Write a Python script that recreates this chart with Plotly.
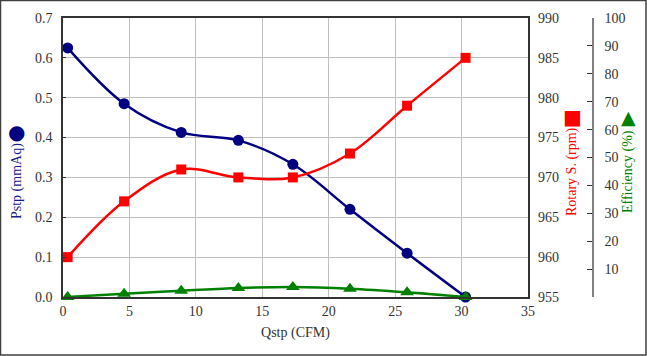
import plotly.graph_objects as go

qstp = [0.35, 4.6, 8.9, 13.2, 17.3, 21.6, 25.9, 30.3]
pstp = [0.625, 0.485, 0.413, 0.393, 0.333, 0.220, 0.110, 0.0]
rotary = [960, 967, 971, 970, 970, 973, 979, 985]
eff = [0.0, 1.2, 2.2, 3.2, 3.6, 3.0, 1.7, 0.0]

W, H = 647, 356
L, R, T, B = 63, 20, 18, 59
pw = W - L - R
ph = H - T - B
plot_right = 528
eff_axis_x = 593

def px(x):
    return (x - L) / pw

def py(y):
    return (H - B - y) / ph

FONT = "Liberation Serif, Times New Roman, serif"
NAVY = "#000080"
RED = "#FF0000"
GREEN = "#008000"

fig = go.Figure()
fig.add_trace(go.Scatter(x=qstp, y=pstp, mode="lines+markers", name="Pstp",
                         line=dict(color=NAVY, width=2.5, shape="spline", smoothing=1),
                         marker=dict(symbol="circle", size=11, color=NAVY),
                         xaxis="x", yaxis="y", cliponaxis=False))
fig.add_trace(go.Scatter(x=qstp, y=rotary, mode="lines+markers", name="Rotary S.",
                         line=dict(color=RED, width=2.5, shape="spline", smoothing=1),
                         marker=dict(symbol="square", size=10, color=RED),
                         xaxis="x", yaxis="y2", cliponaxis=False))
fig.add_trace(go.Scatter(x=qstp, y=eff, mode="lines+markers", name="Efficiency",
                         line=dict(color=GREEN, width=2.5, shape="spline", smoothing=1),
                         marker=dict(symbol="triangle-up", size=12, color=GREEN),
                         xaxis="x", yaxis="y3", cliponaxis=False))

grid = "#c0c0c0"

def tf():
    return dict(family=FONT, size=14, color="#333333")

fig.update_layout(
    width=W, height=H,
    margin=dict(l=L, r=R, t=T, b=B),
    paper_bgcolor="white", plot_bgcolor="white",
    showlegend=False,
    font=dict(family=FONT, size=14, color="#333333"),
    xaxis=dict(domain=[0, px(plot_right)], range=[0, 35], dtick=5, tick0=0,
               showgrid=True, gridcolor=grid, gridwidth=1,
               showline=True, linecolor="#333333", linewidth=1.5, mirror=True,
               ticks="", zeroline=False, tickfont=tf(),
               title=dict(text="Qstp (CFM)", font=tf(), standoff=10)),
    yaxis=dict(range=[0, 0.7], dtick=0.1, tick0=0, tickformat=".1f",
               showgrid=True, gridcolor=grid, gridwidth=1,
               showline=True, linecolor="#333333", linewidth=1.5, mirror=True,
               ticks="inside", ticklen=3, tickcolor="#333333",
               zeroline=False, tickfont=tf(), ticklabelstandoff=6),
    yaxis2=dict(range=[955, 990], dtick=5, tick0=955, overlaying="y", side="right",
                anchor="x", showgrid=False, zeroline=False, showline=False,
                ticks="", tickfont=tf(), ticklabelstandoff=9),
    yaxis3=dict(range=[0, 100], overlaying="y", side="right", anchor="free",
                position=px(eff_axis_x),
                tickvals=[0, 10, 20, 30, 40, 50, 60, 70, 80, 90, 100],
                ticktext=["", "10", "20", "30", "40", "50", "60", "70", "80", "90", "100"],
                showgrid=False, zeroline=False, showline=True,
                linecolor="#808080", linewidth=1.5,
                ticks="inside", ticklen=5, tickcolor="#333333",
                tickfont=tf(), ticklabelstandoff=8),
)

ann = [
    dict(x=px(17), y=py(181), text="Pstp (mmAq)", textangle=-90,
         font=dict(family=FONT, size=14, color="#1a1a8c")),
    dict(x=px(17), y=py(132), text="●",
         font=dict(family="DejaVu Sans", size=20, color=NAVY)),
    dict(x=px(572), y=py(172), text="Rotary S. (rpm)", textangle=-90,
         font=dict(family=FONT, size=14, color=RED)),
    dict(x=px(572), y=py(117), text="■",
         font=dict(family="DejaVu Sans", size=20, color=RED)),
    dict(x=px(628), y=py(172), text="Efficiency (%)", textangle=-90,
         font=dict(family=FONT, size=14, color=GREEN)),
    dict(x=px(628), y=py(117), text="▲",
         font=dict(family="DejaVu Sans", size=19, color=GREEN)),
]
for a in ann:
    a.update(xref="paper", yref="paper", showarrow=False, xanchor="center", yanchor="middle")
fig.update_layout(annotations=ann)

fig.add_shape(type="rect", xref="paper", yref="paper",
              x0=px(0.5), x1=px(646), y0=py(355), y1=py(0.5),
              line=dict(color="#404040", width=1.5), fillcolor="rgba(0,0,0,0)", layer="above")

fig.write_html("out.html", config={"displayModeBar": False},
               post_script="document.body.style.margin='0';document.body.style.overflow='hidden';")
